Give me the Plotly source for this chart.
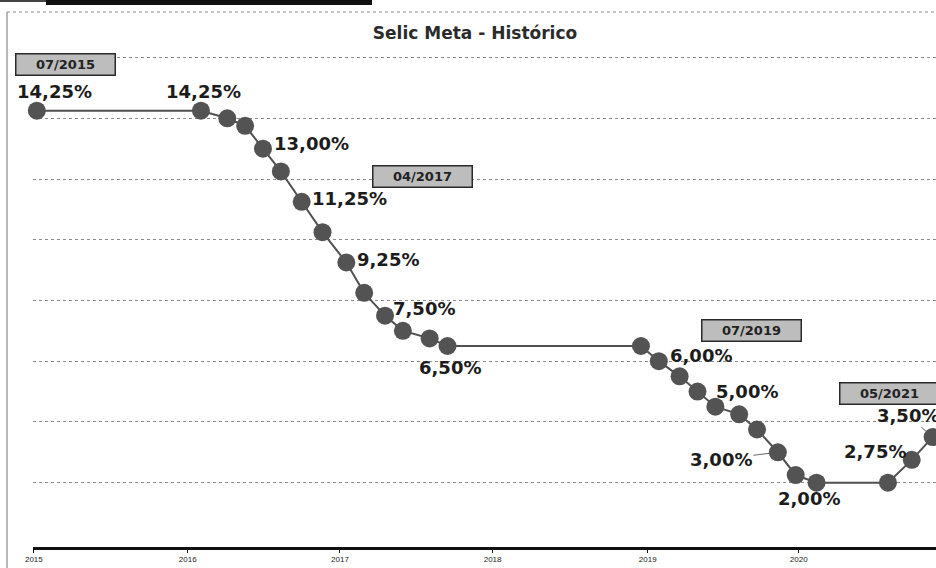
import plotly.graph_objects as go

# ---- data ----
dates = ["2015-07-29", "2016-08-18", "2016-10-19", "2016-11-30", "2017-01-11",
         "2017-02-22", "2017-04-12", "2017-05-31", "2017-07-26", "2017-09-06",
         "2017-10-25", "2017-12-06", "2018-02-07", "2018-03-21", "2019-06-19",
         "2019-07-31", "2019-09-18", "2019-10-30", "2019-12-11", "2020-02-05",
         "2020-03-18", "2020-05-06", "2020-06-17", "2020-08-05", "2021-01-20",
         "2021-03-17", "2021-05-05"]
rates = [14.25, 14.25, 14.00, 13.75, 13.00, 12.25, 11.25, 10.25, 9.25, 8.25,
         7.50, 7.00, 6.75, 6.50, 6.50, 6.00, 5.50, 5.00, 4.50, 4.25,
         3.75, 3.00, 2.25, 2.00, 2.00, 2.75, 3.50]

labelled_points = [0, 1, 4, 6, 8, 10, 13, 15, 17, 21, 23, 25, 26]
date_boxes = ["07/2015", "04/2017", "07/2019", "05/2021"]
date_box_points = [0, 6, 15, 26]

tick_dates = ["2015-07-22", "2016-07-18", "2017-07-11", "2018-07-05", "2019-07-05", "2020-06-24"]
tick_labels = ["2015", "2016", "2017", "2018", "2019", "2020"]
grid_values = [2, 4, 6, 8, 10, 12, 14, 16]

title_text = "Selic Meta - Histórico"

# ---- styles ----
FONT = "DejaVu Sans"
W, H = 936, 568
ML, MR, MT, MB = 33, 0, 12, 21
plot_w = W - ML - MR
plot_h = H - MT - MB

# label offsets (pixels, y positive = up): (xshift, yshift, leader line)
label_style = {
    0: (18, 19, False), 1: (3, 19, False), 4: (48, 5, False), 6: (48, 3, False),
    8: (42, 3, False), 10: (39, 7, False), 13: (2, -21, False), 15: (42, 6, False),
    17: (49, 0, False), 21: (-57, -7, True), 23: (-8, -16, False),
    25: (-37, 8, False), 26: (-25, 22, True),
}
box_style = {0: (29, 46), 6: (121, 25), 15: (93, 31), 26: (-43, 44)}


def fmt(v):
    return f"{v:.2f}%".replace(".", ",")


fig = go.Figure()
fig.add_trace(go.Scatter(
    x=dates, y=rates, mode="lines+markers",
    line=dict(color="#505050", width=2),
    marker=dict(size=18, color="#535353"),
    cliponaxis=False, hoverinfo="skip", showlegend=False,
))

ann = []
for i in labelled_points:
    dx, dy, arrow = label_style[i]
    common = dict(x=dates[i], y=rates[i], text=fmt(rates[i]),
                  font=dict(family=FONT, size=18, color="#1c1c1c", weight="bold"))
    if arrow:
        ann.append(dict(**common, showarrow=True, arrowhead=0, arrowwidth=1,
                        arrowcolor="#666", ax=dx, ay=-dy, standoff=8))
    else:
        ann.append(dict(**common, showarrow=False, xanchor="center", yanchor="middle",
                        xshift=dx, yshift=dy))

for txt, i in zip(date_boxes, date_box_points):
    dx, dy = box_style[i]
    ann.append(dict(x=dates[i], y=rates[i], text=txt, showarrow=False,
                    xanchor="center", yanchor="middle", xshift=dx, yshift=dy,
                    width=96, height=18, bgcolor="#bdbdbd", bordercolor="#2a2a2a",
                    borderwidth=1.5, borderpad=1,
                    font=dict(family=FONT, size=13, color="#222", weight="bold")))


def px_x(p):
    return (p - ML) / plot_w


def px_y(p):
    return (H - MB - p) / plot_h


shapes = [
    # frame: left border and dotted top border
    dict(type="line", xref="paper", yref="paper", x0=px_x(7), x1=px_x(7),
         y0=px_y(12), y1=px_y(568), line=dict(color="#a0a0a0", width=1.5)),
    dict(type="line", xref="paper", yref="paper", x0=px_x(7), x1=px_x(936),
         y0=px_y(12), y1=px_y(12), line=dict(color="#8a8a8a", width=1, dash="dot")),
    # dark bar at top edge
    dict(type="rect", xref="paper", yref="paper", x0=px_x(46), x1=px_x(372),
         y0=px_y(5), y1=px_y(0), fillcolor="#111", line=dict(width=0)),
    dict(type="rect", xref="paper", yref="paper", x0=px_x(0), x1=px_x(46),
         y0=px_y(2), y1=px_y(0), fillcolor="#444", line=dict(width=0)),
]

fig.update_layout(
    width=W, height=H,
    margin=dict(l=ML, r=MR, t=MT, b=MB),
    paper_bgcolor="white", plot_bgcolor="white",
    title=dict(text=title_text, x=475 / W, xanchor="center", y=1 - 33 / H, yanchor="middle",
               font=dict(family=FONT, size=17, color="#2b2b2b", weight="bold")),
    xaxis=dict(type="date", range=["2015-07-20", "2021-05-13"],
               tickvals=tick_dates, ticktext=tick_labels,
               showgrid=False, zeroline=False,
               showline=True, linecolor="#111", linewidth=2.5,
               ticks="outside", ticklen=3, tickcolor="#111", tickwidth=1,
               tickfont=dict(family="Liberation Sans", size=8, color="#222")),
    yaxis=dict(range=[-0.12, 17.5], tickmode="array", tickvals=grid_values,
               showticklabels=False,
               showgrid=True, gridcolor="#8c8c8c", gridwidth=1, griddash="dot",
               zeroline=False, showline=False, ticks=""),
    annotations=ann, shapes=shapes,
)

fig.write_html("out.html", config={"displayModeBar": False},
               post_script="document.body.style.margin='0';document.body.style.overflow='hidden';")
